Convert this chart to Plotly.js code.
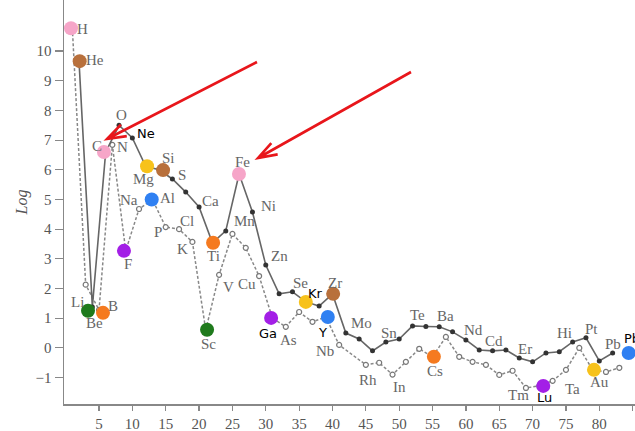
<!DOCTYPE html>
<html>
<head>
<meta charset="utf-8">
<script src="https://cdn.plot.ly/plotly-3.0.1.min.js"></script>
<style>
  html, body { margin: 0; padding: 0; background: #ffffff; }
  #chart { width: 635px; height: 431px; }
</style>
</head>
<body>
<div id="chart"></div>
<script>
// Even atomic numbers (solid line with filled dots)
const evenZ = [2, 4, 6, 8, 10, 12, 14, 16, 18, 20, 22, 24, 26, 28, 30, 32, 34, 36, 38, 40,
               42, 44, 46, 48, 50, 52, 54, 56, 58, 60, 62, 64, 66, 68, 70, 72, 74, 76, 78, 80, 82];
const evenLog = [9.66, 1.38, 6.6, 7.5, 7.07, 6.12, 6.0, 5.69, 5.25, 4.75, 3.54, 3.94, 5.86, 4.58, 2.79, 1.82, 1.89, 1.55, 1.41, 1.82,
                 0.5, 0.3, -0.1, 0.2, 0.3, 0.74, 0.72, 0.71, 0.54, 0.27, -0.07, -0.1, -0.07, -0.34, -0.47, -0.17, -0.13, 0.2, 0.34, -0.44, -0.17];

// Odd atomic numbers (dashed line with open circles)
const oddZ = [1, 3, 5, 7, 9, 11, 13, 15, 17, 19, 21, 23, 25, 27, 29, 31, 33, 35, 37, 39, 41,
              45, 47, 49, 51, 53, 55, 57, 59, 61, 63, 65, 67, 69, 71, 73, 75, 77, 79, 81, 83];
const oddLog = [10.77, 2.13, 1.28, 6.84, 3.27, 4.68, 5.0, 4.07, 4.0, 3.57, 0.6, 2.46, 3.84, 3.37, 2.42, 1.0, 0.71, 1.21, 0.88, 1.04, 0.1,
                -0.57, -0.5, -0.9, -0.47, -0.03, -0.3, 0.37, -0.3, -0.47, -0.57, -0.91, -0.77, -1.35, -1.28, -1.11, -0.74, 0.0, -0.74, -0.81, -0.67];

// Highlighted elements (coloured dots)
const hlName = ["H", "He", "Be", "B", "C", "F", "Mg", "Si", "Al", "Ti", "Sc", "Fe", "Ga", "Kr", "Y", "Zr", "Cs", "Lu", "Au", "Pb"];
const hlX = [0.8, 2.1, 3.35, 5.6, 5.74, 8.74, 12.2, 14.6, 12.9, 22.1, 21.2, 25.98, 30.8, 36.0, 39.3, 40.1, 55.2, 71.6, 79.2, 84.4];
const hlY = [10.77, 9.66, 1.25, 1.18, 6.6, 3.27, 6.12, 5.99, 5.0, 3.54, 0.61, 5.86, 1.01, 1.55, 1.04, 1.82, -0.3, -1.28, -0.74, -0.17];
const hlColor = ["#f6a5c8", "#b8703c", "#1f7a1c", "#f57a1f", "#f6a5c8", "#a31fe6", "#f7c21b", "#b8703c", "#2f80f2", "#f57a1f",
                 "#1f7a1c", "#f6a5c8", "#a31fe6", "#f7c21b", "#2f80f2", "#b8703c", "#f57a1f", "#a31fe6", "#f7c21b", "#2f80f2"];

// Element labels: [text, pixel x, pixel y, style]  (style: s = grey serif, b = black sans)
const labels = [
  ["H", 82, 29, "s"], ["He", 95, 60, "s"], ["O", 121, 115, "s"], ["Ne", 146, 133, "b"],
  ["C", 97, 146, "s"], ["N", 122, 147, "s"], ["Si", 168, 158, "s"], ["Mg", 143, 179, "s"],
  ["S", 182, 175, "s"], ["Na", 129, 200, "s"], ["Al", 167, 198, "s"], ["Ca", 210, 201, "s"],
  ["P", 158, 232, "s"], ["Cl", 187, 221, "s"], ["K", 182, 249, "s"], ["Ti", 213, 256, "s"],
  ["F", 128, 264, "s"], ["Mn", 244, 221, "s"], ["Fe", 242, 162, "s"], ["Ni", 268, 206, "s"],
  ["Zn", 279, 256, "s"], ["Cu", 247, 284, "s"], ["V", 228, 287, "s"], ["Sc", 208, 344, "s"],
  ["Li", 77, 302, "s"], ["Be", 94, 323, "s"], ["B", 113, 306, "s"], ["Se", 300, 283, "s"],
  ["Kr", 315, 293, "b"], ["Zr", 335, 283, "s"], ["Ga", 268, 333, "b"], ["As", 288, 340, "s"],
  ["Y", 322, 332, "b"], ["Nb", 325, 351, "s"], ["Mo", 361, 323, "s"], ["Sn", 389, 333, "s"],
  ["Rh", 368, 380, "s"], ["In", 399, 387, "s"], ["Te", 417, 315, "s"], ["Ba", 445, 316, "s"],
  ["Nd", 473, 330, "s"], ["Cd", 494, 341, "s"], ["Er", 525, 349, "s"], ["Cs", 435, 371, "s"],
  ["Tm", 518, 395, "s"], ["Lu", 544, 397, "b"], ["Ta", 572, 389, "s"], ["Hi", 564, 333, "s"],
  ["Pt", 591, 329, "s"], ["Pb", 613, 344, "s"], ["Au", 599, 382, "s"], ["Pb", 622, 338, "b"]
];

// Axis geometry
const X_RANGE = [-0.25, 85.35];
const Y_RANGE = [-1.89, 11.72];
const M = { l: 64, r: 0, t: 0, b: 27 };
const W = 635, H = 431;
const pw = W - M.l - M.r, ph = H - M.t - M.b;
const px2x = p => X_RANGE[0] + (p - M.l) / pw * (X_RANGE[1] - X_RANGE[0]);
const py2y = p => Y_RANGE[1] - (p - M.t) / ph * (Y_RANGE[1] - Y_RANGE[0]);

const serif = '"Liberation Serif", "DejaVu Serif", serif';
const sans = '"DejaVu Sans", "Liberation Sans", sans-serif';

const traces = [
  {
    x: oddZ, y: oddLog, type: "scatter", mode: "lines+markers",
    line: { color: "#888", width: 1.5, dash: "3px,2px" },
    marker: { symbol: "circle", size: 5, color: "#ffffff", line: { color: "#777", width: 1.2 } },
    hoverinfo: "skip"
  },
  {
    x: evenZ, y: evenLog, type: "scatter", mode: "lines+markers",
    line: { color: "#666", width: 1.6 },
    marker: { symbol: "circle", size: 5, color: "#333" },
    hoverinfo: "skip"
  },
  {
    x: hlX, y: hlY, text: hlName, type: "scatter", mode: "markers",
    marker: { size: 14, color: hlColor },
    hoverinfo: "text"
  }
];

const annotations = labels.map(l => ({
  text: l[0], x: px2x(l[1]), y: py2y(l[2]), xref: "x", yref: "y",
  showarrow: false, xanchor: l[1] >= 620 ? "left" : "center",
  font: l[3] === "b" ? { family: sans, size: 13, color: "#000" } : { family: serif, size: 15, color: "#666" }
}));

// Red arrows (open V heads) pointing at the C/N/O peak and the iron peak
const arrows = [[107, 139, 257, 62], [258, 158, 411, 72]];
function arrowPath(a) {
  const [tx, ty, sx, sy] = a;
  const dx = sx - tx, dy = sy - ty, len = Math.hypot(dx, dy);
  const ux = dx / len, uy = dy / len, L = 20, ang = 0.33;
  const b1 = [tx + L * (ux * Math.cos(ang) - uy * Math.sin(ang)), ty + L * (ux * Math.sin(ang) + uy * Math.cos(ang))];
  const b2 = [tx + L * (ux * Math.cos(-ang) - uy * Math.sin(-ang)), ty + L * (ux * Math.sin(-ang) + uy * Math.cos(-ang))];
  const P = (x, y) => px2x(x) + "," + py2y(y);
  return "M" + P(sx, sy) + " L" + P(tx, ty) + " M" + P(b1[0], b1[1]) + " L" + P(tx, ty) + " L" + P(b2[0], b2[1]);
}
const shapes = arrows.map(a => ({
  type: "path", xref: "x", yref: "y", path: arrowPath(a),
  line: { color: "#e8161b", width: 2.6 }
}));

const layout = {
  width: W, height: H, margin: M,
  paper_bgcolor: "#ffffff", plot_bgcolor: "#ffffff",
  showlegend: false,
  xaxis: {
    range: X_RANGE, showgrid: false, zeroline: false,
    showline: true, linecolor: "#888", linewidth: 1.5,
    ticks: "outside", ticklen: 5, tickcolor: "#888", tickwidth: 1.2,
    tickvals: [5, 10, 15, 20, 25, 30, 35, 40, 45, 50, 55, 60, 65, 70, 75, 80, 85],
    tickfont: { family: serif, size: 15, color: "#555" }
  },
  yaxis: {
    range: Y_RANGE, showgrid: false, zeroline: false,
    showline: true, linecolor: "#888", linewidth: 1.5,
    ticks: "outside", ticklen: 8, tickcolor: "#888", tickwidth: 1.2,
    tickvals: [-1, 0, 1, 2, 3, 4, 5, 6, 7, 8, 9, 10],
    tickfont: { family: serif, size: 15, color: "#555" },
    title: { text: "<i>Log</i>", font: { family: serif, size: 16, color: "#555" }, standoff: 4 }
  },
  shapes: shapes,
  annotations: annotations
};

Plotly.newPlot("chart", traces, layout, { staticPlot: true, displayModeBar: false });
</script>
</body>
</html>
